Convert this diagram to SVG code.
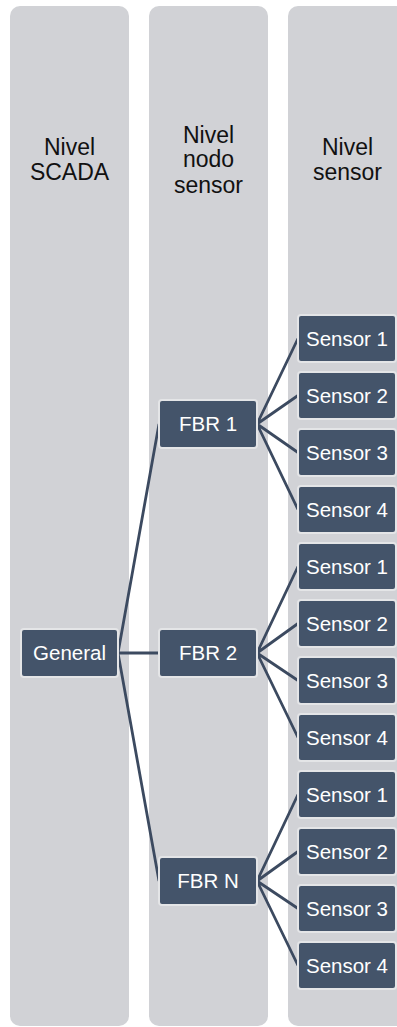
<svg xmlns="http://www.w3.org/2000/svg" width="397" height="1027" viewBox="0 0 397 1027">
  <style>
    .lane { fill: #d1d2d6; }
    .head { font-family: "Liberation Sans", Arial, sans-serif; font-size: 23px; fill: #111111; text-anchor: middle; }
    .box { fill: #44546a; stroke: #e4e5e7; stroke-width: 2; }
    .lbl { font-family: "Liberation Sans", Arial, sans-serif; font-size: 20.5px; fill: #ffffff; text-anchor: middle; }
    .link { stroke: #3c4a60; stroke-width: 2.8; fill: none; }
  </style>
  <rect width="397" height="1027" fill="#ffffff"/>

  <!-- level lanes -->
  <g id="lane-scada">
    <rect class="lane" x="10" y="6" width="119" height="1020" rx="10"/>
    <text class="head" x="69.5" y="155">Nivel</text>
    <text class="head" x="69.5" y="180">SCADA</text>
  </g>
  <g id="lane-nodo">
    <rect class="lane" x="149" y="6" width="119" height="1020" rx="10"/>
    <text class="head" x="208.5" y="142.5">Nivel</text>
    <text class="head" x="208.5" y="167">nodo</text>
    <text class="head" x="208.5" y="192.5">sensor</text>
  </g>
  <g id="lane-sensor">
    <rect class="lane" x="288" y="6" width="119" height="1020" rx="10"/>
    <text class="head" x="347.5" y="155">Nivel</text>
    <text class="head" x="347.5" y="180">sensor</text>
  </g>

  <!-- connectors -->
  <g id="connectors">
    <path class="link" d="M118 653 L159 424 M118 653 L159 653 M118 653 L159 881"/>
    <path class="link" d="M257 424 L298 338.5 M257 424 L298 395.5 M257 424 L298 452.5 M257 424 L298 509.5"/>
    <path class="link" d="M257 653 L298 566.5 M257 653 L298 623.5 M257 653 L298 680.5 M257 653 L298 737.5"/>
    <path class="link" d="M257 881 L298 794.5 M257 881 L298 851.5 M257 881 L298 908.5 M257 881 L298 965.5"/>
  </g>

  <!-- SCADA level -->
  <g id="general">
    <rect class="box" x="21" y="629" width="97" height="48" rx="3"/>
    <text class="lbl" x="69.5" y="660">General</text>
  </g>

  <!-- sensor-node level -->
  <g id="fbr-1">
    <rect class="box" x="159" y="400" width="98" height="48" rx="3"/>
    <text class="lbl" x="208" y="431">FBR 1</text>
  </g>
  <g id="fbr-2">
    <rect class="box" x="159" y="629" width="98" height="48" rx="3"/>
    <text class="lbl" x="208" y="660">FBR 2</text>
  </g>
  <g id="fbr-n">
    <rect class="box" x="159" y="857" width="98" height="48" rx="3"/>
    <text class="lbl" x="208" y="888">FBR N</text>
  </g>

  <!-- sensor level, group 1 -->
  <g id="s1-1"><rect class="box" x="298" y="315" width="98" height="47" rx="3"/><text class="lbl" x="347" y="345.5">Sensor 1</text></g>
  <g id="s1-2"><rect class="box" x="298" y="372" width="98" height="47" rx="3"/><text class="lbl" x="347" y="402.5">Sensor 2</text></g>
  <g id="s1-3"><rect class="box" x="298" y="429" width="98" height="47" rx="3"/><text class="lbl" x="347" y="459.5">Sensor 3</text></g>
  <g id="s1-4"><rect class="box" x="298" y="486" width="98" height="47" rx="3"/><text class="lbl" x="347" y="516.5">Sensor 4</text></g>

  <!-- sensor level, group 2 -->
  <g id="s2-1"><rect class="box" x="298" y="543" width="98" height="47" rx="3"/><text class="lbl" x="347" y="573.5">Sensor 1</text></g>
  <g id="s2-2"><rect class="box" x="298" y="600" width="98" height="47" rx="3"/><text class="lbl" x="347" y="630.5">Sensor 2</text></g>
  <g id="s2-3"><rect class="box" x="298" y="657" width="98" height="47" rx="3"/><text class="lbl" x="347" y="687.5">Sensor 3</text></g>
  <g id="s2-4"><rect class="box" x="298" y="714" width="98" height="47" rx="3"/><text class="lbl" x="347" y="744.5">Sensor 4</text></g>

  <!-- sensor level, group N -->
  <g id="sn-1"><rect class="box" x="298" y="771" width="98" height="47" rx="3"/><text class="lbl" x="347" y="801.5">Sensor 1</text></g>
  <g id="sn-2"><rect class="box" x="298" y="828" width="98" height="47" rx="3"/><text class="lbl" x="347" y="858.5">Sensor 2</text></g>
  <g id="sn-3"><rect class="box" x="298" y="885" width="98" height="47" rx="3"/><text class="lbl" x="347" y="915.5">Sensor 3</text></g>
  <g id="sn-4"><rect class="box" x="298" y="942" width="98" height="47" rx="3"/><text class="lbl" x="347" y="972.5">Sensor 4</text></g>
</svg>
